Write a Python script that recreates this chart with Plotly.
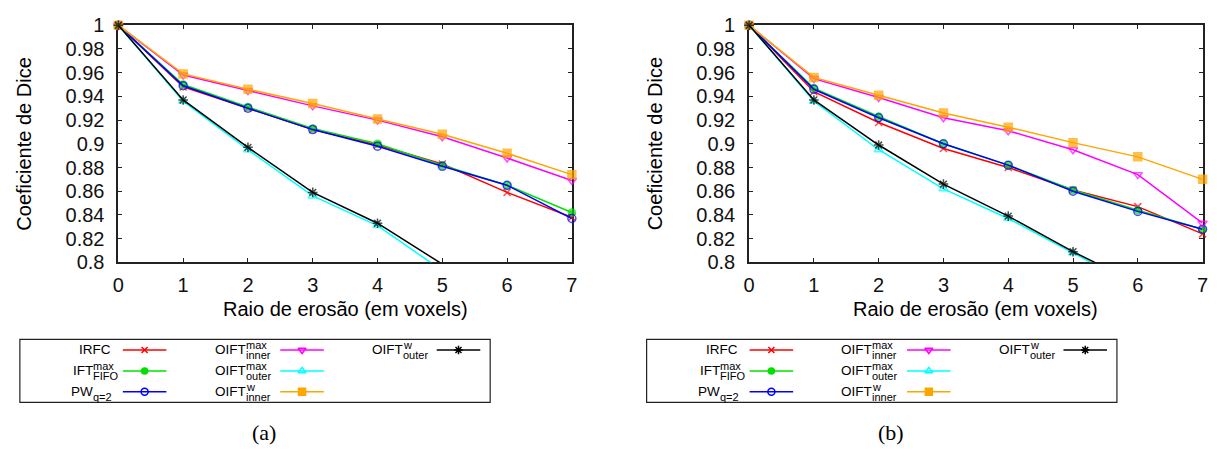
import plotly.graph_objects as go

W, H = 1217, 459

# Erosion radius (voxels) and Dice axis ticks
radius = [0, 1, 2, 3, 4, 5, 6, 7]
dice_ticks = [0.8, 0.82, 0.84, 0.86, 0.88, 0.9, 0.92, 0.94, 0.96, 0.98, 1.0]
dice_tick_labels = ["0.8", "0.82", "0.84", "0.86", "0.88", "0.9", "0.92",
                    "0.94", "0.96", "0.98", "1"]

# Panel (a)
a_irfc = [1.0, 0.948, 0.930, 0.912, 0.899, 0.883, 0.859, 0.838]
a_ift_fifo = [1.0, 0.950, 0.931, 0.913, 0.900, 0.882, 0.865, 0.842]
a_pw = [1.0, 0.949, 0.930, 0.912, 0.898, 0.881, 0.865, 0.837]
a_oift_max_inner = [1.0, 0.958, 0.945, 0.932, 0.920, 0.906, 0.888, 0.869]
a_oift_max_outer = [1.0, 0.936, 0.895, 0.856, 0.831, 0.793, None, None]
a_oift_w_inner = [1.0, 0.959, 0.946, 0.934, 0.921, 0.908, 0.892, 0.874]
a_oift_w_outer = [1.0, 0.937, 0.897, 0.859, 0.833, 0.7985, None, None]

# Panel (b)
b_irfc = [1.0, 0.944, 0.918, 0.896, 0.880, 0.861, 0.847, 0.824]
b_ift_fifo = [1.0, 0.947, 0.923, 0.900, 0.882, 0.861, 0.844, 0.828]
b_pw = [1.0, 0.946, 0.922, 0.900, 0.882, 0.860, 0.843, 0.828]
b_oift_max_inner = [1.0, 0.955, 0.939, 0.922, 0.911, 0.895, 0.874, 0.833]
b_oift_max_outer = [1.0, 0.936, 0.895, 0.862, 0.837, 0.808, 0.779, None]
b_oift_w_inner = [1.0, 0.956, 0.941, 0.926, 0.914, 0.901, 0.889, 0.870]
b_oift_w_outer = [1.0, 0.937, 0.899, 0.866, 0.839, 0.809, 0.782, None]

panel_a = [a_irfc, a_ift_fifo, a_pw, a_oift_max_inner, a_oift_max_outer,
           a_oift_w_inner, a_oift_w_outer]
panel_b = [b_irfc, b_ift_fifo, b_pw, b_oift_max_inner, b_oift_max_outer,
           b_oift_w_inner, b_oift_w_outer]

# Method names: (base, superscript, subscript)
method_labels = [
    ("IRFC", "", ""),
    ("IFT", "max", "FIFO"),
    ("PW", "", "q=2"),
    ("OIFT", "max", "inner"),
    ("OIFT", "max", "outer"),
    ("OIFT", "w", "inner"),
    ("OIFT", "w", "outer"),
]

styles = [
    dict(color="#ff0000", symbol="x-thin-open", size=7),
    dict(color="#00e000", symbol="circle", size=7),
    dict(color="#0000ff", symbol="circle-open", size=8),
    dict(color="#ff00ff", symbol="triangle-down-open", size=8),
    dict(color="#00ffff", symbol="triangle-up-open", size=8),
    dict(color="#ffa500", symbol="square", size=8),
    dict(color="#000000", symbol="asterisk-open", size=8),
]

SANS = "Liberation Sans, Arial, sans-serif"
AXIS_COLOR = "#222222"

# Plot areas in pixels: (left, right), shared (top, bottom)
panels = [
    dict(data=panel_a, xa="x", ya="y", px=(113.5, 571.5), legend_left=14,
         caption="(a)", caption_x=261, ytitle_x=18),
    dict(data=panel_b, xa="x2", ya="y2", px=(750.5, 1208.5), legend_left=647,
         caption="(b)", caption_x=894, ytitle_x=655),
]
PLOT_TOP, PLOT_BOTTOM = 15, 264


def fx(px):
    return px / W


def fy(py):
    return 1 - py / H


fig = go.Figure()
annotations = []
shapes = []

for p in panels:
    for vals, st in zip(p["data"], styles):
        sizes = [st["size"] if (v is not None and 0.8 <= v <= 1.0) else 0
                 for v in vals]
        fig.add_trace(go.Scatter(
            x=radius, y=vals, xaxis=p["xa"], yaxis=p["ya"],
            mode="lines+markers", cliponaxis=False, connectgaps=False,
            line=dict(color=st["color"], width=1.5),
            marker=dict(symbol=st["symbol"], size=sizes, color=st["color"],
                        line=dict(color=st["color"], width=1.5)),
            showlegend=False, hoverinfo="skip",
        ))

axis_common = dict(
    showline=True, linecolor=AXIS_COLOR, linewidth=1.8, mirror="ticks",
    ticks="inside", ticklen=4, tickwidth=1, tickcolor=AXIS_COLOR,
    showgrid=False, zeroline=False, layer="below traces",
    tickfont=dict(family=SANS, size=20, color="#111111"),
)


def label(text, x, y, size, anchor, **kw):
    return dict(text=text, x=fx(x), y=fy(y), xref="paper", yref="paper",
                xanchor=anchor, yanchor="middle", showarrow=False,
                borderpad=0, font=dict(family=SANS, size=size,
                                       color="#000000"), **kw)


layout_axes = {}
for i, p in enumerate(panels):
    sfx = "" if i == 0 else str(i + 1)
    layout_axes["xaxis" + sfx] = dict(
        axis_common, domain=[fx(p["px"][0]), fx(p["px"][1])],
        range=[0, 7], tickvals=radius, anchor="y" + sfx, ticklabelstandoff=4,
    )
    layout_axes["yaxis" + sfx] = dict(
        axis_common, domain=[fy(PLOT_BOTTOM), fy(PLOT_TOP)],
        range=[0.8, 1.0], tickvals=dice_ticks, ticktext=dice_tick_labels,
        anchor="x" + sfx, ticklabelstandoff=8,
    )
    cx = (p["px"][0] + p["px"][1]) / 2
    annotations.append(label("Raio de erosão (em voxels)", cx, 313, 20,
                             "center"))
    annotations.append(label("Coeficiente de Dice", p["ytitle_x"],
                             (PLOT_TOP + PLOT_BOTTOM) / 2, 20, "center",
                             textangle=-90))
    cap = label(p["caption"], p["caption_x"], 443, 22, "center")
    cap["font"]["family"] = "Liberation Serif, DejaVu Serif, serif"
    annotations.append(cap)

    # Key box below each panel
    bx = p["legend_left"]
    shapes.append(dict(type="rect", xref="paper", yref="paper",
                       x0=fx(bx), x1=fx(bx + 475), y0=fy(411), y1=fy(345),
                       line=dict(color=AXIS_COLOR, width=1.2)))
    rows_y = [356, 378, 400]
    col_layout = [
        dict(text_right=93, script_left=74, line=(104, 148)),
        dict(text_right=252, script_left=228, line=(263, 307)),
        dict(text_right=410, script_left=387, line=(421, 465)),
    ]
    for k, ((base, sup, sub), st) in enumerate(zip(method_labels, styles)):
        col = col_layout[k // 3]
        ry = rows_y[k % 3]
        if sup or sub:
            sx = bx + col["script_left"]
            annotations.append(label(base, sx + 1, ry, 13.5, "right"))
            if sup:
                annotations.append(label(sup, sx - 1, ry - 5, 11, "left"))
            annotations.append(label(sub, sx - 1, ry + 5.5, 11, "left"))
        else:
            annotations.append(label(base, bx + col["text_right"], ry, 13.5,
                                     "right"))
        x0, x1 = bx + col["line"][0], bx + col["line"][1]
        fig.add_trace(go.Scatter(
            x=[x0, x1], y=[ry, ry], xaxis="x3", yaxis="y3", mode="lines",
            line=dict(color=st["color"], width=1.5), showlegend=False,
            hoverinfo="skip"))
        fig.add_trace(go.Scatter(
            x=[(x0 + x1) / 2], y=[ry], xaxis="x3", yaxis="y3",
            mode="markers", cliponaxis=False,
            marker=dict(symbol=st["symbol"], size=st["size"] - 1,
                        color=st["color"],
                        line=dict(color=st["color"], width=1.5)),
            showlegend=False, hoverinfo="skip"))

# Overlay axis in pixel units for the key samples
layout_axes["xaxis3"] = dict(domain=[0, 1], range=[0, W], visible=False,
                             anchor="y3", fixedrange=True)
layout_axes["yaxis3"] = dict(domain=[0, 1], range=[H, 0], visible=False,
                             anchor="x3", fixedrange=True)

fig.update_layout(
    width=W, height=H, margin=dict(l=0, r=0, t=0, b=0),
    paper_bgcolor="white", plot_bgcolor="rgba(0,0,0,0)",
    showlegend=False, annotations=annotations, shapes=shapes,
    **layout_axes,
)

fig.write_html("out.html")
